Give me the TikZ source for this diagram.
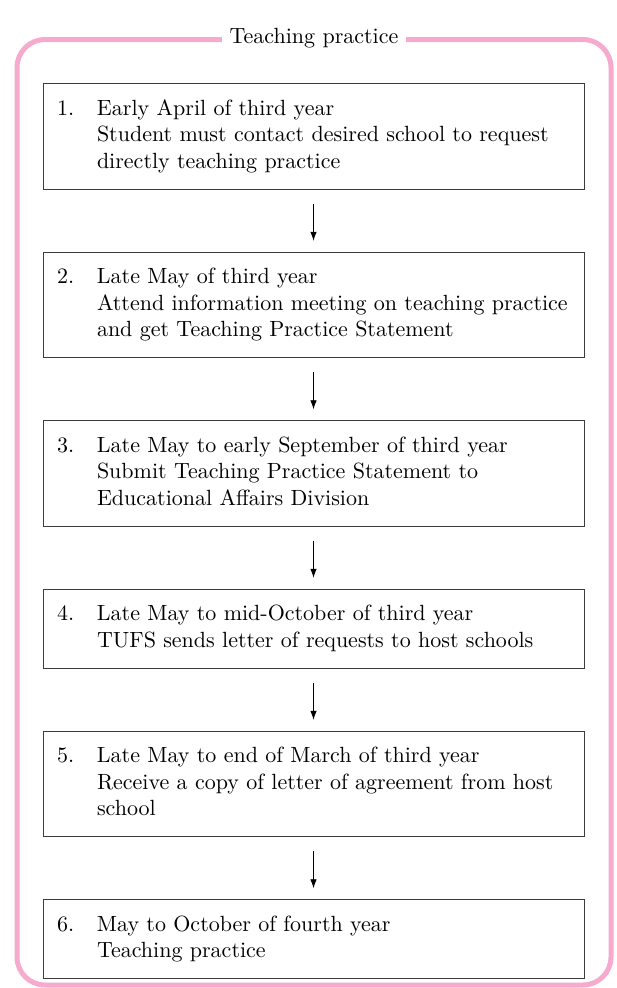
\documentclass[tikz,border=0pt]{standalone}
\usepackage{tikz}
\usetikzlibrary{positioning, arrows.meta}
\definecolor{framepink}{RGB}{245,170,206}
\definecolor{boxgray}{RGB}{60,60,60}
\font\stagefont="[lmroman10-regular]:+tlig;" at 22pt

\begin{document}
\begin{tikzpicture}[
    x=1pt, y=-1pt,
    stage/.style={rectangle, draw=boxgray, line width=1pt, text width=513pt, inner xsep=14pt, inner ysep=13pt, align=left, font=\fontsize{22}{26.5}\selectfont\stagefont},
    flow/.style={-{Latex[length=9pt, width=6.5pt]}, line width=0.8pt, shorten <=14pt, shorten >=11pt},
    ]
    \useasboundingbox (0,0) rectangle (616,988);
    % Outer frame with title
    \draw[framepink, line width=5pt, rounded corners=28pt] (17,39.5) rectangle (611,985);
    \node[fill=white, inner xsep=8pt, font=\fontsize{22}{26.5}\selectfont\stagefont] (title) at (314,38) {Teaching practice};

    % Steps
    \node[stage] (s_1) at (313.5,136.5) {\begin{tabular}{@{}p{40pt}@{}l@{}}
        1. & Early April of third year\\
           & Student must contact desired school to request\\
           & directly teaching practice
    \end{tabular}};
    \node[stage, below=62pt of s_1] (s_2) {\begin{tabular}{@{}p{40pt}@{}l@{}}
        2. & Late May of third year\\
           & Attend information meeting on teaching practice\\
           & and get Teaching Practice Statement
    \end{tabular}};
    \node[stage, below=62pt of s_2] (s_3) {\begin{tabular}{@{}p{40pt}@{}l@{}}
        3. & Late May to early September of third year\\
           & Submit Teaching Practice Statement to\\
           & Educational Affairs Division
    \end{tabular}};
    \node[stage, below=62pt of s_3] (s_4) {\begin{tabular}{@{}p{40pt}@{}l@{}}
        4. & Late May to mid-October of third year\\
           & TUFS sends letter of requests to host schools
    \end{tabular}};
    \node[stage, below=62pt of s_4] (s_5) {\begin{tabular}{@{}p{40pt}@{}l@{}}
        5. & Late May to end of March of third year\\
           & Receive a copy of letter of agreement from host\\
           & school
    \end{tabular}};
    \node[stage, below=62pt of s_5] (s_6) {\begin{tabular}{@{}p{40pt}@{}l@{}}
        6. & May to October of fourth year\\
           & Teaching practice
    \end{tabular}};

    % Edges
    \draw[flow] (s_1) -- (s_2);
    \draw[flow] (s_2) -- (s_3);
    \draw[flow] (s_3) -- (s_4);
    \draw[flow] (s_4) -- (s_5);
    \draw[flow] (s_5) -- (s_6);
\end{tikzpicture}
\end{document}
